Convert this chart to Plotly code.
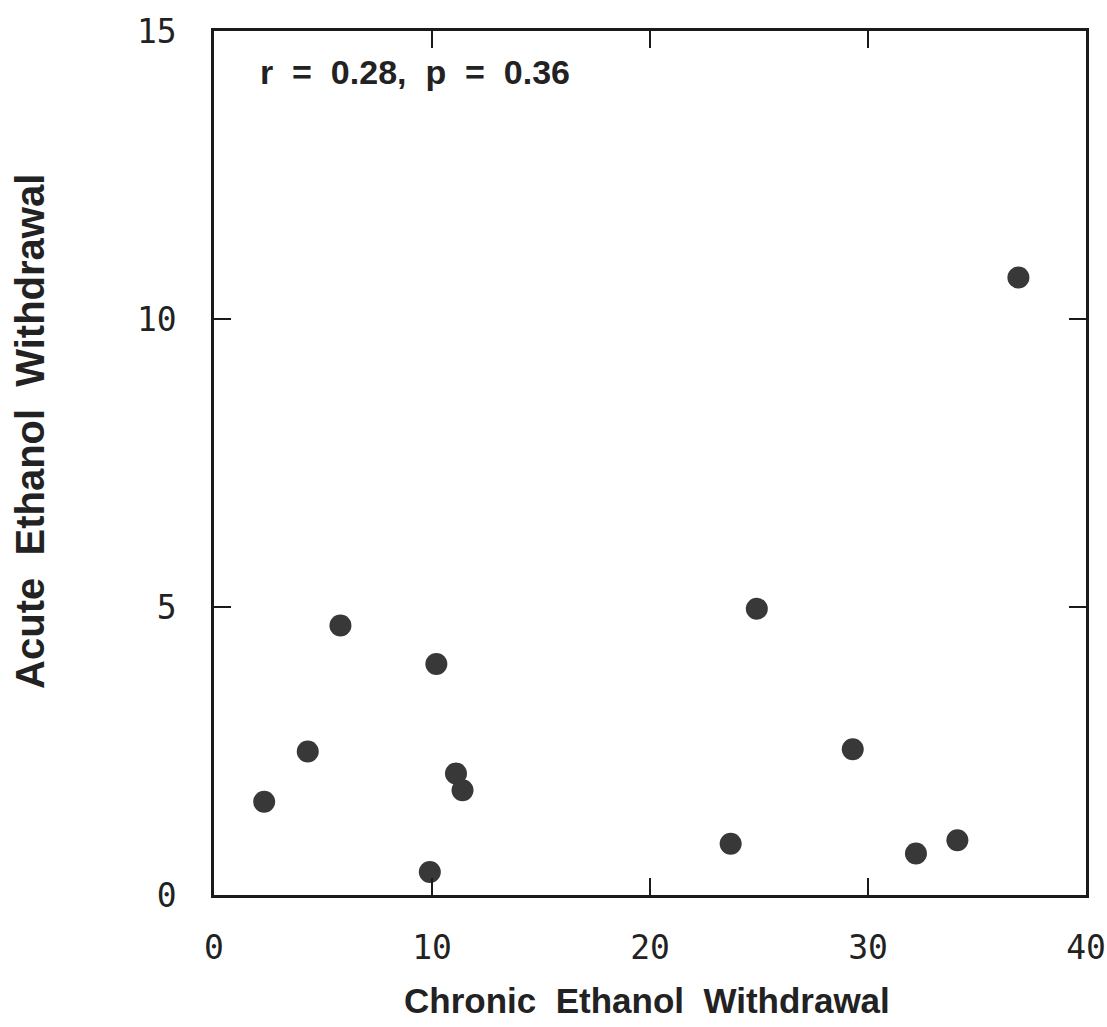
import plotly.graph_objects as go

chronic = [2.3, 4.3, 5.8, 9.9, 10.2, 11.1, 11.4, 23.7, 24.9, 29.3, 32.2, 34.1, 36.9]
acute = [1.62, 2.49, 4.68, 0.40, 4.01, 2.11, 1.82, 0.89, 4.97, 2.53, 0.72, 0.95, 10.72]

x_ticks = [0, 10, 20, 30, 40]
x_ticktext = ["0", "10", "20", "30", "40"]
y_ticks = [0, 5, 10, 15]

fig = go.Figure()
fig.add_trace(go.Scatter(
    x=chronic, y=acute, mode="markers",
    marker=dict(size=22, color="#383838", line=dict(width=0)),
    showlegend=False, hoverinfo="skip"))

axis_common = dict(
    showgrid=False, zeroline=False, showline=True, linecolor="#1a1a1a", linewidth=2.5,
    mirror="ticks", ticks="inside", ticklen=17, tickwidth=2, tickcolor="#1a1a1a",
    automargin=False, ticklabeloverflow="allow",
    tickfont=dict(family="DejaVu Sans Mono", size=33, color="#222"),
)

fig.update_xaxes(range=[0, 40], tickvals=x_ticks, ticktext=x_ticktext,
                 ticklabelstandoff=22, **axis_common)
fig.update_yaxes(range=[0, 15], tickvals=y_ticks, ticktext=[str(v) for v in y_ticks],
                 ticklabelstandoff=28, **axis_common)

sp = "\u00a0\u00a0"
fig.add_annotation(text="<b>r" + sp + "=" + sp + "0.28," + sp + "p" + sp + "=" + sp + "0.36</b>",
                   xref="paper", yref="paper",
                   x=0.05, y=0.952, xanchor="left", yanchor="middle", showarrow=False,
                   font=dict(family="Liberation Sans", size=34, color="#222"))
fig.add_annotation(text="<b>Chronic" + sp + "Ethanol" + sp + "Withdrawal</b>", xref="paper", yref="paper",
                   x=0.497, y=-0.122, xanchor="center", yanchor="middle", showarrow=False,
                   font=dict(family="Liberation Sans", size=35, color="#222"))
fig.add_annotation(text="<b>Acute" + sp + "Ethanol" + sp + "Withdrawal</b>", xref="paper", yref="paper",
                   x=-0.211, y=0.536, xanchor="center", yanchor="middle", showarrow=False,
                   textangle=-90,
                   font=dict(family="Liberation Sans", size=40, color="#222"))

fig.update_layout(
    width=1107, height=1027,
    margin=dict(l=214, r=21, t=31, b=132),
    plot_bgcolor="white", paper_bgcolor="white",
)

fig.write_html("out.html")
